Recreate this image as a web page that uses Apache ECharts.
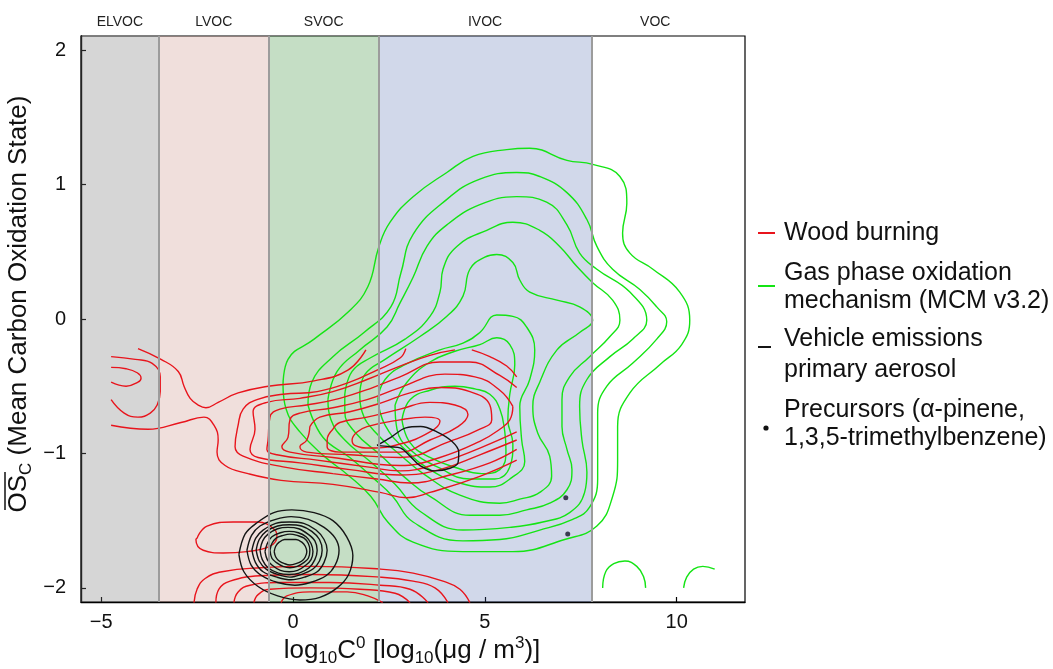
<!DOCTYPE html>
<html>
<head>
<meta charset="utf-8">
<title>Volatility vs oxidation state</title>
<script src="https://cdn.jsdelivr.net/npm/echarts@6/dist/echarts.min.js"></script>
<style>
  html, body { margin: 0; padding: 0; background: #fff; }
  #chart { width: 1053px; height: 669px; }
</style>
</head>
<body>
<div id="chart"></div>
<script>
// ---- axes ----
const xTicks = [-5, 0, 5, 10];
const yTicks = [-2, -1, 0, 1, 2];

// volatility classes (log10 C0 ranges)
const bandNames = ['ELVOC', 'LVOC', 'SVOC', 'IVOC', 'VOC'];
const bandEdges = [-5.525, -3.5, -0.63, 2.23, 7.78, 11.78];

// ---- gas phase oxidation mechanism (MCM v3.2) contours ----
const gasC1 = [[-0.26,-0.49],[-0.13,-0.30],[0.55,-0.15],[1.43,0.05],[1.95,0.24],[2.24,0.54],[2.53,0.72],[3.13,0.91],[4.01,1.09],[4.69,1.21],[5.57,1.26],[6.17,1.27],[7.14,1.18],[7.81,1.15],[8.52,1.06],[8.70,0.86],[8.59,0.64],[8.78,0.49],[9.38,0.37],[10.08,0.20],[10.34,-0.01],[10.13,-0.19],[9.56,-0.34],[8.78,-0.55],[8.46,-0.80],[8.46,-1.05],[8.33,-1.32],[7.92,-1.54],[7.08,-1.64],[5.73,-1.73],[4.43,-1.73],[3.13,-1.66],[2.47,-1.51],[2.03,-1.32],[1.43,-1.16],[0.81,-1.02],[0.18,-0.84],[-0.18,-0.67],[-0.26,-0.49]];
const gasC2 = [[0.39,-0.64],[0.49,-0.47],[1.04,-0.28],[1.85,-0.10],[2.55,0.09],[2.81,0.34],[3.13,0.63],[4.01,0.89],[4.87,1.04],[5.83,1.09],[6.43,1.06],[7.14,0.94],[7.66,0.74],[7.92,0.54],[8.33,0.37],[9.04,0.22],[9.48,0.09],[9.74,-0.02],[9.48,-0.15],[8.85,-0.33],[8.18,-0.50],[7.94,-0.70],[7.94,-0.95],[7.94,-1.19],[7.73,-1.40],[7.29,-1.49],[6.43,-1.57],[5.39,-1.64],[4.43,-1.65],[3.13,-1.51],[2.60,-1.32],[2.08,-1.18],[1.48,-1.03],[0.78,-0.88],[0.39,-0.64]];
const gasC3 = [[0.91,-0.60],[1.15,-0.39],[1.74,-0.23],[2.45,-0.06],[2.79,0.12],[3.13,0.31],[3.49,0.54],[4.01,0.70],[4.87,0.85],[5.83,0.91],[6.61,0.87],[7.14,0.70],[7.47,0.49],[7.92,0.37],[8.78,0.20],[9.22,-0.01],[8.85,-0.15],[8.26,-0.28],[7.66,-0.45],[7.47,-0.65],[7.53,-0.90],[7.66,-1.14],[7.60,-1.29],[7.21,-1.44],[6.51,-1.51],[5.65,-1.55],[4.43,-1.57],[3.31,-1.43],[2.66,-1.23],[2.01,-1.06],[1.35,-0.90],[0.99,-0.75],[0.91,-0.60]];
const gasC4 = [[1.35,-0.56],[1.54,-0.39],[2.01,-0.29],[2.92,-0.15],[3.57,0.02],[3.83,0.20],[3.91,0.37],[4.27,0.54],[5.05,0.66],[5.73,0.72],[6.43,0.66],[6.95,0.54],[7.40,0.39],[7.81,0.27],[8.33,0.14],[8.52,-0.01],[8.26,-0.13],[7.73,-0.28],[7.21,-0.43],[7.01,-0.60],[7.01,-0.80],[7.14,-0.97],[7.27,-1.12],[7.14,-1.27],[6.69,-1.37],[6.09,-1.42],[5.39,-1.46],[4.61,-1.46],[3.57,-1.32],[2.92,-1.18],[2.27,-1.01],[1.61,-0.84],[1.35,-0.69],[1.35,-0.56]];
const gasC5 = [[1.74,-0.56],[1.88,-0.41],[2.40,-0.30],[3.31,-0.13],[4.01,0.02],[4.43,0.17],[4.61,0.37],[5.00,0.46],[5.31,0.48],[5.73,0.42],[5.91,0.29],[6.17,0.20],[6.88,0.14],[7.47,0.09],[7.81,-0.01],[7.47,-0.10],[6.88,-0.23],[6.43,-0.47],[6.25,-0.65],[6.38,-0.85],[6.69,-1.02],[6.74,-1.17],[6.43,-1.29],[5.91,-1.34],[5.39,-1.37],[4.35,-1.31],[3.44,-1.16],[2.79,-1.01],[2.14,-0.84],[1.80,-0.69],[1.74,-0.56]];
const gasC6 = [[2.21,-0.60],[2.40,-0.45],[2.92,-0.34],[3.83,-0.23],[4.43,-0.18],[4.87,-0.10],[5.31,0.03],[5.73,0.02],[6.09,-0.06],[6.30,-0.23],[6.17,-0.45],[5.91,-0.65],[5.96,-0.90],[6.04,-1.06],[5.70,-1.18],[5.13,-1.25],[4.35,-1.22],[3.57,-1.12],[2.92,-0.97],[2.40,-0.79],[2.21,-0.60]];
const gasC7 = [[2.66,-0.64],[2.97,-0.47],[3.57,-0.32],[4.22,-0.24],[4.87,-0.19],[5.31,-0.14],[5.65,-0.19],[5.78,-0.34],[5.65,-0.56],[5.60,-0.75],[5.73,-0.93],[5.65,-1.10],[5.26,-1.19],[4.61,-1.19],[3.83,-1.11],[3.05,-0.97],[2.71,-0.82],[2.66,-0.64]];
const gasC8 = [[2.84,-0.75],[3.05,-0.60],[3.57,-0.53],[4.22,-0.50],[4.74,-0.52],[5.13,-0.56],[5.39,-0.67],[5.52,-0.84],[5.55,-0.98],[5.39,-1.12],[4.92,-1.15],[4.30,-1.11],[3.57,-1.03],[3.05,-0.92],[2.84,-0.75]];
const gasArc1 = [[8.07,-2.00],[8.15,-1.88],[8.36,-1.82],[8.65,-1.80],[8.96,-1.84],[9.14,-1.92],[9.19,-2.00]];
const gasArc2 = [[10.18,-2.00],[10.26,-1.92],[10.44,-1.86],[10.68,-1.84],[10.99,-1.86]];

// ---- wood burning contours ----
const woodElvocSmall = [[-4.74,-0.36],[-4.35,-0.37],[-4.06,-0.40],[-3.96,-0.44],[-4.04,-0.47],[-4.35,-0.50],[-4.74,-0.47]];
const woodElvocMid = [[-4.74,-0.28],[-4.11,-0.30],[-3.67,-0.33],[-3.46,-0.43],[-3.46,-0.54],[-3.54,-0.64],[-3.72,-0.70],[-4.04,-0.73],[-4.40,-0.70],[-4.74,-0.60]];
const woodUpper = [[-4.04,-0.22],[-3.44,-0.30],[-2.99,-0.39],[-2.84,-0.50],[-2.68,-0.59],[-2.47,-0.64],[-2.27,-0.66],[-1.95,-0.62],[-1.43,-0.55],[-0.65,-0.50],[0.55,-0.46],[1.43,-0.38],[1.90,-0.23]];
const woodLower = [[-4.74,-0.79],[-3.78,-0.82],[-2.92,-0.77],[-2.32,-0.73],[-2.06,-0.79],[-1.95,-0.90],[-1.98,-0.99],[-1.77,-1.09],[-1.17,-1.15],[-0.31,-1.20],[1.04,-1.23],[2.27,-1.29],[2.97,-1.33],[3.57,-1.29],[4.87,-1.17],[5.83,-1.05]];
const wood3 = [[2.94,-0.22],[2.79,-0.29],[2.19,-0.38],[1.48,-0.47],[0.63,-0.54],[-0.26,-0.56],[-0.94,-0.60],[-1.30,-0.67],[-1.43,-0.79],[-1.51,-0.95],[-1.30,-1.02],[-0.26,-1.10],[1.04,-1.15],[2.19,-1.19],[3.05,-1.22],[4.09,-1.16],[5.13,-1.07],[5.83,-0.97]];
const wood4 = [[4.22,-0.23],[3.57,-0.27],[2.79,-0.35],[1.93,-0.45],[1.04,-0.54],[0.18,-0.59],[-0.68,-0.62],[-1.04,-0.69],[-0.99,-0.82],[-1.12,-0.97],[-0.91,-1.03],[0.18,-1.07],[1.48,-1.12],[2.79,-1.16],[3.83,-1.12],[4.87,-1.01],[5.83,-0.90]];
const wood4b = [[4.66,-0.23],[5.13,-0.28],[5.57,-0.35],[5.83,-0.43]];
const wood5 = [[5.83,-0.51],[5.39,-0.42],[4.61,-0.32],[3.83,-0.32],[2.79,-0.43],[2.08,-0.51],[1.22,-0.59],[0.36,-0.64],[-0.34,-0.67],[-0.60,-0.73],[-0.65,-0.90],[-0.68,-0.97],[-0.42,-1.01],[0.63,-1.05],[1.93,-1.10],[2.79,-1.13],[3.83,-1.07],[4.87,-0.96],[5.83,-0.84]];
const wood6 = [[5.73,-0.65],[5.39,-0.53],[4.74,-0.43],[3.96,-0.41],[2.79,-0.51],[1.93,-0.60],[1.04,-0.66],[0.18,-0.70],[-0.08,-0.75],[-0.13,-0.88],[-0.29,-0.95],[-0.08,-0.99],[1.04,-1.03],[2.79,-1.09],[3.83,-1.03],[4.87,-0.91],[5.39,-0.82],[5.65,-0.75],[5.73,-0.65]];
const wood7 = [[0.44,-0.80],[0.70,-0.73],[1.48,-0.69],[2.34,-0.62],[3.05,-0.55],[3.83,-0.51],[4.61,-0.54],[5.13,-0.64],[5.18,-0.75],[4.87,-0.82],[4.09,-0.91],[2.79,-1.03],[1.48,-1.01],[0.36,-0.99],[0.18,-0.95],[0.36,-0.90],[0.44,-0.80]];
const wood8 = [[1.04,-0.82],[1.22,-0.77],[1.93,-0.73],[2.79,-0.67],[3.57,-0.62],[4.22,-0.64],[4.56,-0.71],[4.30,-0.80],[3.57,-0.90],[2.79,-0.99],[1.74,-0.99],[1.22,-0.99],[0.89,-0.95],[0.89,-0.90],[1.04,-0.82]];
const wood9 = [[1.67,-0.84],[1.93,-0.80],[2.79,-0.75],[3.44,-0.73],[3.83,-0.76],[3.57,-0.84],[2.79,-0.93],[2.01,-0.96],[1.61,-0.94],[1.54,-0.90],[1.67,-0.84]];
const woodLoop = [[-2.50,-1.63],[-2.24,-1.54],[-1.56,-1.51],[-0.94,-1.51],[-0.47,-1.57],[-0.42,-1.62],[-0.60,-1.69],[-1.20,-1.73],[-1.82,-1.74],[-2.34,-1.72],[-2.53,-1.64],[-2.50,-1.63]];
const woodBottom1 = [[-2.58,-2.11],[-2.50,-2.01],[-2.29,-1.93],[-1.85,-1.88],[-0.86,-1.85],[0.52,-1.84],[2.27,-1.86],[3.13,-1.89],[3.91,-1.95],[4.35,-2.01],[4.61,-2.11]];
const woodBottom2 = [[-2.01,-2.11],[-1.93,-2.01],[-1.64,-1.95],[-0.86,-1.91],[0.52,-1.90],[2.27,-1.92],[3.13,-1.95],[3.70,-2.00],[4.04,-2.11]];
const woodBottom3 = [[-1.54,-2.11],[-1.43,-2.03],[-1.12,-1.98],[-0.34,-1.96],[0.96,-1.96],[2.27,-1.98],[3.05,-2.01],[3.52,-2.11]];
const woodBottom4 = [[-1.02,-2.11],[-0.91,-2.05],[-0.60,-2.01],[0.44,-2.00],[1.74,-2.01],[2.66,-2.04],[3.05,-2.11]];
const woodBottom5 = [[-0.31,-2.11],[-0.16,-2.06],[0.44,-2.03],[1.41,-2.03],[1.95,-2.06],[2.34,-2.11]];

// ---- vehicle emissions primary aerosol contours ----
const veh1 = [[-1.41,-1.75],[-1.25,-1.60],[-0.96,-1.52],[-0.50,-1.44],[-0.03,-1.42],[0.55,-1.44],[1.04,-1.50],[1.40,-1.62],[1.56,-1.76],[1.45,-1.90],[1.15,-2.00],[0.70,-2.07],[0.18,-2.09],[-0.40,-2.06],[-0.91,-1.99],[-1.28,-1.88],[-1.41,-1.75]];
const veh2 = [[-1.20,-1.72],[-1.08,-1.61],[-0.86,-1.54],[-0.45,-1.49],[-0.05,-1.47],[0.40,-1.49],[0.81,-1.55],[1.10,-1.63],[1.20,-1.72],[1.10,-1.83],[0.86,-1.91],[0.45,-1.96],[0.05,-1.98],[-0.40,-1.96],[-0.81,-1.91],[-1.09,-1.83],[-1.20,-1.72]];
const veh3 = [[-1.07,-1.72],[-0.97,-1.63],[-0.78,-1.57],[-0.45,-1.52],[-0.10,-1.51],[0.28,-1.52],[0.60,-1.57],[0.81,-1.64],[0.89,-1.72],[0.81,-1.81],[0.63,-1.88],[0.30,-1.92],[-0.05,-1.94],[-0.42,-1.92],[-0.78,-1.88],[-0.98,-1.81],[-1.07,-1.72]];
const veh4 = [[-0.96,-1.72],[-0.88,-1.64],[-0.70,-1.58],[-0.40,-1.54],[-0.10,-1.53],[0.22,-1.54],[0.49,-1.58],[0.69,-1.64],[0.76,-1.72],[0.69,-1.80],[0.52,-1.86],[0.22,-1.90],[-0.08,-1.92],[-0.40,-1.90],[-0.70,-1.86],[-0.88,-1.80],[-0.96,-1.72]];
const veh5 = [[-0.86,-1.72],[-0.79,-1.65],[-0.65,-1.60],[-0.40,-1.56],[-0.13,-1.55],[0.15,-1.56],[0.39,-1.60],[0.57,-1.65],[0.63,-1.72],[0.57,-1.79],[0.42,-1.85],[0.16,-1.89],[-0.10,-1.90],[-0.38,-1.89],[-0.65,-1.85],[-0.80,-1.79],[-0.86,-1.72]];
const veh6 = [[-0.73,-1.73],[-0.67,-1.67],[-0.55,-1.62],[-0.33,-1.59],[-0.10,-1.58],[0.14,-1.59],[0.34,-1.62],[0.47,-1.67],[0.52,-1.73],[0.47,-1.79],[0.34,-1.83],[0.12,-1.87],[-0.10,-1.88],[-0.33,-1.87],[-0.55,-1.83],[-0.67,-1.79],[-0.73,-1.73]];
const veh7 = [[-0.60,-1.72],[-0.55,-1.67],[-0.44,-1.63],[-0.26,-1.61],[-0.08,-1.60],[0.11,-1.61],[0.29,-1.63],[0.40,-1.67],[0.44,-1.72],[0.40,-1.78],[0.29,-1.81],[0.11,-1.84],[-0.08,-1.85],[-0.26,-1.84],[-0.44,-1.81],[-0.55,-1.78],[-0.60,-1.72]];
const veh8 = [[-0.49,-1.73],[-0.45,-1.69],[-0.36,-1.66],[-0.22,-1.64],[-0.08,-1.64],[0.08,-1.64],[0.23,-1.66],[0.32,-1.69],[0.36,-1.73],[0.32,-1.77],[0.23,-1.80],[0.08,-1.82],[-0.08,-1.83],[-0.22,-1.82],[-0.36,-1.80],[-0.45,-1.77],[-0.49,-1.73]];
const vehSmall = [[2.19,-0.94],[2.55,-0.88],[2.94,-0.81],[3.33,-0.80],[3.75,-0.84],[4.14,-0.91],[4.32,-0.99],[4.30,-1.07],[4.09,-1.11],[3.70,-1.13],[3.31,-1.09],[3.05,-1.02],[2.81,-0.96],[2.53,-0.95],[2.19,-0.94]];

// precursors (alpha-pinene, 1,3,5-trimethylbenzene)
const precursors = [[7.11,-1.33],[7.16,-1.60]];

const RED = '#e8141c';
const GREEN = '#14e414';
const BLACK = '#151515';

const gasLines = [gasC1, gasC2, gasC3, gasC4, gasC5, gasC6, gasC7, gasC8, gasArc1, gasArc2];
const woodLines = [woodElvocSmall, woodElvocMid, woodUpper, woodLower, wood3, wood4, wood4b, wood5, wood6, wood7, wood8, wood9,
  woodLoop, woodBottom1, woodBottom2, woodBottom3, woodBottom4, woodBottom5];
const vehLines = [veh1, veh2, veh3, veh4, veh5, veh6, veh7, veh8, vehSmall];

const FONT = 'Liberation Sans, Arial, Helvetica, sans-serif';

function contour(data, color, smooth) {
  return {
    type: 'line',
    data: data,
    smooth: smooth || 0.45,
    symbol: 'none',
    silent: true,
    z: 2,
    lineStyle: { color: color, width: 1.4 }
  };
}

const bandColors = ['rgba(118,118,118,0.30)', 'rgba(195,127,115,0.25)', 'rgba(62,145,62,0.30)', 'rgba(71,99,171,0.25)', 'rgba(255,255,255,0)'];

let series = [];
gasLines.forEach(d => series.push(contour(d, GREEN)));
woodLines.forEach(d => series.push(contour(d, RED)));
vehLines.forEach(d => series.push(contour(d, BLACK, 0.35)));
series.push({
  type: 'scatter',
  data: precursors,
  symbolSize: 5,
  silent: true,
  z: 2,
  itemStyle: { color: '#15152a' }
});
// shaded volatility bands, drawn on top of the contours
series.push({
  type: 'line',
  data: [],
  z: 5,
  silent: true,
  markArea: {
    silent: true,
    data: bandNames.map((name, i) => [
      {
        name: name,
        xAxis: bandEdges[i], yAxis: 2.105,
        itemStyle: { color: bandColors[i] },
        label: {
          show: true, position: 'top', distance: 7,
          offset: name === 'VOC' ? [-13, 0] : [0, 0],
          color: '#222', fontSize: 14, fontFamily: FONT
        }
      },
      { xAxis: bandEdges[i + 1], yAxis: -2.105 }
    ])
  },
  markLine: {
    silent: true,
    symbol: ['none', 'none'],
    label: { show: false },
    lineStyle: { color: '#9c9c9c', width: 2, type: 'solid' },
    data: bandEdges.slice(1, 5).map(v => ({ xAxis: v }))
  }
});

const minusFmt = v => String(v).replace('-', '\u2212');

let myChart = echarts.init(document.getElementById('chart'));
let option = {
  animation: false,
  backgroundColor: '#fff',
  textStyle: { fontFamily: FONT },
  grid: { left: 81, right: 308, top: 36, bottom: 67, show: true, borderColor: '#000', borderWidth: 1.2, backgroundColor: 'transparent' },
  xAxis: {
    type: 'value', min: -5.525, max: 11.78,
    axisLine: { show: true, onZero: false, lineStyle: { color: '#000', width: 1.4 } },
    axisTick: { show: true, inside: true, length: 5, customValues: xTicks, lineStyle: { color: '#000', width: 1.2 } },
    axisLabel: { customValues: xTicks, formatter: minusFmt, fontSize: 20, color: '#111', margin: 10, fontFamily: FONT },
    splitLine: { show: false }
  },
  yAxis: {
    type: 'value', min: -2.105, max: 2.105,
    axisLine: { show: true, onZero: false, lineStyle: { color: '#000', width: 1.4 } },
    axisTick: { show: true, inside: true, length: 5, customValues: yTicks, lineStyle: { color: '#000', width: 1.2 } },
    axisLabel: { customValues: yTicks, formatter: minusFmt, fontSize: 20, color: '#111', margin: 15, fontFamily: FONT },
    splitLine: { show: false }
  },
  graphic: [
    // x axis title
    {
      type: 'text', x: 412, y: 651, silent: true,
      style: {
        text: '{n|log}{s|10}{n|C}{p|0}{n| [log}{s|10}{n|(\u03bcg / m}{p|3}{n|)]}',
        align: 'center', verticalAlign: 'middle', fill: '#111',
        rich: {
          n: { fontSize: 26, fontFamily: FONT, lineHeight: 32, verticalAlign: 'middle', fill: '#111' },
          s: { fontSize: 17, fontFamily: FONT, lineHeight: 16, verticalAlign: 'bottom', fill: '#111' },
          p: { fontSize: 17, fontFamily: FONT, lineHeight: 16, verticalAlign: 'top', fill: '#111' }
        }
      }
    },
    // y axis title, rotated
    {
      type: 'group', x: 19, y: 304, rotation: Math.PI / 2, silent: true,
      children: [
        {
          type: 'text',
          style: {
            text: '{n|OS}{s|C}{n| (Mean Carbon Oxidation State)}',
            align: 'center', verticalAlign: 'middle', fill: '#111',
            rich: {
              n: { fontSize: 26, fontFamily: FONT, lineHeight: 32, verticalAlign: 'middle', fill: '#111' },
              s: { fontSize: 17, fontFamily: FONT, lineHeight: 16, verticalAlign: 'bottom', fill: '#111' }
            }
          }
        },
        { type: 'line', shape: { x1: -206, y1: -14, x2: -168, y2: -14 }, style: { stroke: '#111', lineWidth: 1.5 } }
      ]
    },
    // legend
    { type: 'line', shape: { x1: 758, y1: 233, x2: 775, y2: 233 }, style: { stroke: RED, lineWidth: 2 } },
    { type: 'text', x: 784, y: 233, style: { text: 'Wood burning', font: '25px ' + FONT, fill: '#111', verticalAlign: 'middle' } },
    { type: 'line', shape: { x1: 758, y1: 286, x2: 775, y2: 286 }, style: { stroke: GREEN, lineWidth: 2 } },
    { type: 'text', x: 784, y: 273, style: { text: 'Gas phase oxidation', font: '25px ' + FONT, fill: '#111', verticalAlign: 'middle' } },
    { type: 'text', x: 784, y: 301, style: { text: 'mechanism (MCM v3.2)', font: '25px ' + FONT, fill: '#111', verticalAlign: 'middle' } },
    { type: 'line', shape: { x1: 758, y1: 347, x2: 771, y2: 347 }, style: { stroke: BLACK, lineWidth: 2 } },
    { type: 'text', x: 784, y: 339, style: { text: 'Vehicle emissions', font: '25px ' + FONT, fill: '#111', verticalAlign: 'middle' } },
    { type: 'text', x: 784, y: 370, style: { text: 'primary aerosol', font: '25px ' + FONT, fill: '#111', verticalAlign: 'middle' } },
    { type: 'circle', shape: { cx: 766, cy: 428, r: 2.6 }, style: { fill: '#111' } },
    { type: 'text', x: 784, y: 410, style: { text: 'Precursors (\u03b1-pinene,', font: '25px ' + FONT, fill: '#111', verticalAlign: 'middle' } },
    { type: 'text', x: 784, y: 438, style: { text: '1,3,5-trimethylbenzene)', font: '25px ' + FONT, fill: '#111', verticalAlign: 'middle' } }
  ],
  series: series
};
myChart.setOption(option);
</script>
</body>
</html>
